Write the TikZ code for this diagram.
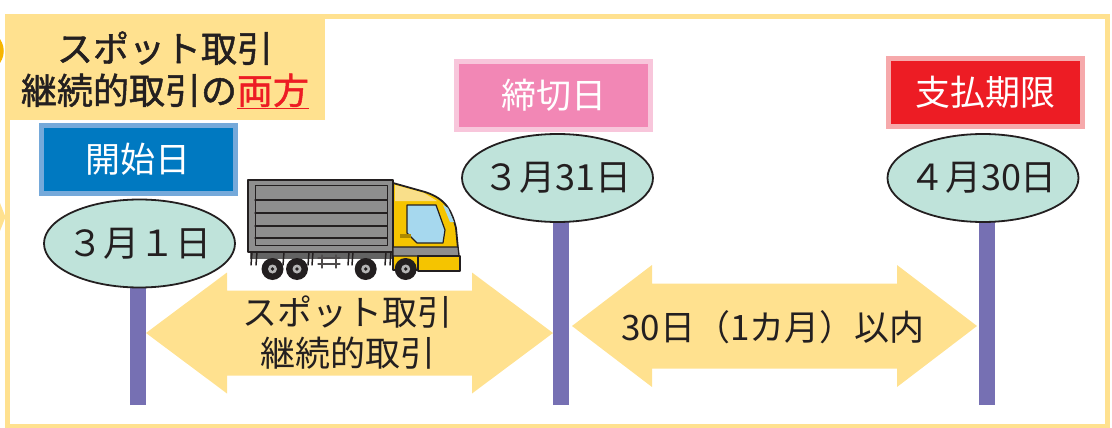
\documentclass[tikz,border=0pt]{standalone}
\usepackage{fontspec}
\setmainfont{Noto Sans CJK JP}
\newfontfamily\headfont[FakeBold=1.3]{Noto Sans CJK JP}
\usetikzlibrary{shapes.geometric}

\definecolor{frameyellow}{HTML}{FFE18F}
\definecolor{ink}{HTML}{231F20}
\definecolor{accentred}{HTML}{ED1C24}
\definecolor{bubble}{HTML}{BFE3DA}
\definecolor{stickpurple}{HTML}{7670B3}
\definecolor{startblue}{HTML}{0079C1}
\definecolor{startblueedge}{HTML}{75A9DA}
\definecolor{closepink}{HTML}{F287B5}
\definecolor{closepinkedge}{HTML}{F8C6DB}
\definecolor{duered}{HTML}{ED1C24}
\definecolor{dueredge}{HTML}{F6A9AB}
\definecolor{ringorange}{HTML}{F7B500}
\definecolor{truckgray}{HTML}{8E8E8E}
\definecolor{cabyellow}{HTML}{F5C400}
\definecolor{roofyellow}{HTML}{F9DF8A}
\definecolor{windowblue}{HTML}{A6D8EE}
\definecolor{hubgray}{HTML}{B5B5B5}

% fat double-headed arrow: x1, x2, y centre, head length, half head height, half shaft height
\newcommand\fatarrow[6]{%
  \fill[frameyellow] (#1,#3) -- (#1+#4,#3-#5) -- (#1+#4,#3-#6) -- (#2-#4,#3-#6)
    -- (#2-#4,#3-#5) -- (#2,#3) -- (#2-#4,#3+#5) -- (#2-#4,#3+#6)
    -- (#1+#4,#3+#6) -- (#1+#4,#3+#5) -- cycle;}

\begin{document}
\begin{tikzpicture}[x=1pt,y=-1pt,
  labelbox/.style={rectangle, minimum width=194pt, minimum height=68pt,
    line width=5pt, inner sep=0pt, outer sep=0pt, text=white,
    font=\fontsize{35}{35}\selectfont},
  datebubble/.style={ellipse, draw=ink, line width=1.8pt, fill=bubble,
    minimum width=191pt, minimum height=88pt, inner xsep=-20pt, inner ysep=0pt,
    font=\fontsize{36}{36}\selectfont, text=ink},
  stick/.style={draw=stickpurple, line width=16pt},
  bodytext/.style={font=\fontsize{35}{35}\selectfont, text=ink, inner sep=0pt},
  headtext/.style={font=\fontsize{36}{36}\selectfont\headfont, text=ink, inner sep=0pt, anchor=base}
]
\useasboundingbox (0,0) rectangle (1112,428);
\clip (0,0) rectangle (1112,428);

% pieces reaching in from the left
\draw[ringorange, line width=3.5pt] (-17,51) circle (19);
\fill[frameyellow] (0,203) -- (5.5,217) -- (0,231) -- cycle;

% outer frame
\draw[frameyellow, line width=5pt] (7.5,16.5) rectangle (1107.5,426);

% heading
\node (title) [fill=frameyellow, minimum width=320pt, minimum height=106pt,
  inner sep=0pt, anchor=north west] at (5,14) {};
\node (t1) [headtext] at (165,62) {スポット取引};
\node (t2) [headtext] at (165,104) {継続的取引の\textcolor{accentred}{\underline{両方}}};

% time sticks
\coordinate (b1) at (138,405);
\coordinate (b2) at (561,405);
\coordinate (b3) at (986.5,405);
\draw[stick] (b1) -- (138,280);
\draw[stick] (b2) -- (561,215);
\draw[stick] (b3) -- (986.5,215);

% date bubbles
\node (e1) [datebubble] at (139.5,243.5) {３月１日};
\node (e2) [datebubble] at (557.5,178) {３月31日};
\node (e3) [datebubble] at (983,178) {４月30日};

% labels
\node (l1) [labelbox, fill=startblue, draw=startblueedge] at (138,159.5) {開始日};
\node (l2) [labelbox, fill=closepink, draw=closepinkedge] at (553.5,95.5) {締切日};
\node (l3) [labelbox, fill=duered, draw=dueredge] at (985.5,92.5) {支払期限};

% period arrows
\fatarrow{146}{553}{333}{81}{60.5}{42.5}
\fatarrow{572}{977}{326}{80}{61}{42.5}
\node (a1a) [bodytext] at (347,312) {スポット取引};
\node (a1b) [bodytext] at (348,353) {継続的取引};
\node (a2) [bodytext] at (773,327) {30日（1カ月）以内};

% truck
\begin{scope}[line join=round, line cap=round]
  \fill[truckgray!70!black] (250,251) rectangle (455,259);
  \foreach \x in {252,257,284,309,313,349,353,386,391}
    \draw[line width=1.5pt, ink] (\x,252) -- (\x-1,265);
  \draw[line width=1.3pt, ink!80] (318,258) -- (340,258) (318,264) -- (340,264)
    (322,255) -- (322,268) (336,255) -- (336,268);
  \draw[line width=1.8pt, draw=ink, fill=truckgray] (248,180) rectangle (393,252);
  \draw[line width=1pt, ink] (255,185) rectangle (387,245);
  \foreach \y in {200,213,226,238}
    \draw[line width=1.2pt, ink] (255,\y) -- (387,\y);
  \draw[line width=1.8pt, ink, fill=cabyellow] (393,183) -- (425,192)
    .. controls (447,199) and (452,212) .. (456,228) -- (460,270) -- (393,270) -- cycle;
  \fill[roofyellow] (395,185) -- (424,193) -- (437,201) -- (395,201) -- cycle;
  \draw[line width=1.2pt, ink, fill=windowblue] (407,205) -- (436,205) -- (445,230)
    -- (443,243) -- (417,243) -- (407,233) -- cycle;
  \fill[windowblue] (443,205) -- (448,208) -- (454,222) -- (450,222) -- cycle;
  \draw[line width=1.2pt, ink, fill=truckgray] (393,247) -- (458,247) -- (459,256) -- (393,256) -- cycle;
  \draw[line width=1.4pt, ink, fill=cabyellow] (418,256) rectangle (460,271);
  \fill[cabyellow!70!black] (400,234) rectangle (411,238);
  \foreach \x in {272.5,297,365.7,405.7} {
    \fill[ink] (\x,269) circle (11);
    \fill[hubgray] (\x,269) circle (4.5);
    \fill[ink] (\x,269) circle (1.8);
  }
\end{scope}
\end{tikzpicture}
\end{document}
